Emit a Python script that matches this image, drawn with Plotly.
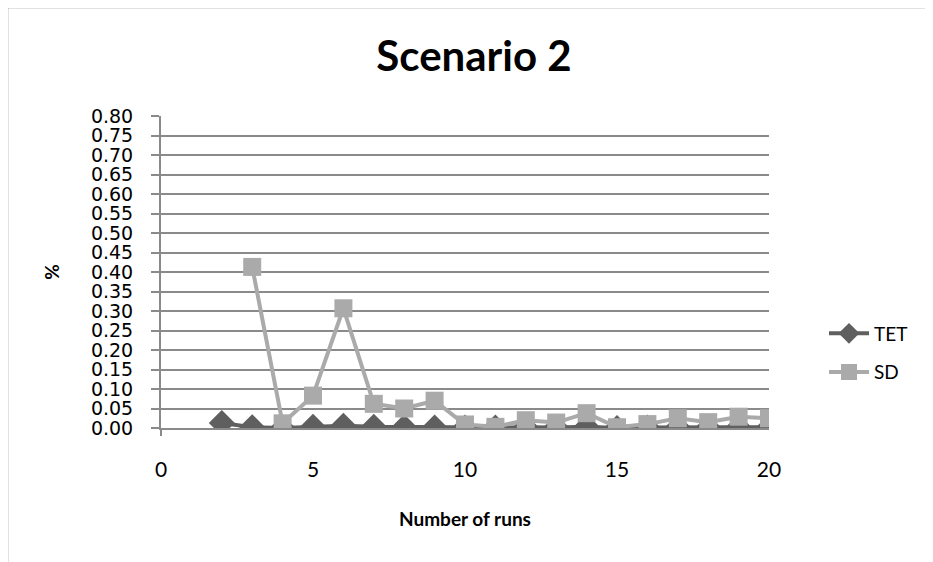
import plotly.graph_objects as go

title_text = "Scenario 2"
x_title = "Number of runs"
y_title = "%"

tet_x = [2, 3, 4, 5, 6, 7, 8, 9, 10, 11, 12, 13, 14, 15, 16, 17, 18, 19, 20]
tet_y = [0.013, 0.002, 0.0, 0.003, 0.006, 0.003, 0.002, 0.001, 0.001, 0.001,
         0.002, 0.001, 0.003, 0.0, 0.001, 0.002, 0.001, 0.002, 0.002]

sd_x = [3, 4, 5, 6, 7, 8, 9, 10, 11, 12, 13, 14, 15, 16, 17, 18, 19, 20]
sd_y = [0.413, 0.012, 0.083, 0.307, 0.062, 0.050, 0.070, 0.009, 0.003, 0.020,
        0.014, 0.038, 0.002, 0.010, 0.025, 0.015, 0.029, 0.025]

y_ticks = [round(i * 0.05, 2) for i in range(17)]
y_tick_labels = [f"{v:.2f}" for v in y_ticks]
x_ticks = [0, 5, 10, 15, 20]

GRID = "#8a8a8a"

fig = go.Figure()
fig.add_trace(go.Scatter(
    x=tet_x, y=tet_y, name="TET", mode="lines+markers", legendgroup="a",
    line=dict(color="#5f5f5f", width=4),
    marker=dict(symbol="diamond", size=20, color="#5f5f5f"),
))
fig.add_trace(go.Scatter(
    x=sd_x, y=sd_y, name="SD", mode="lines+markers", legendgroup="b",
    line=dict(color="#aaaaaa", width=4),
    marker=dict(symbol="square", size=18, color="#aaaaaa"),
))

# page body has an 8px default margin, so screen coords are offset by 8
OFF = 8
W, H = 933 - OFF, 562 - OFF
L, R, T, B = 161 - OFF, 769 - OFF, 116 - OFF, 428 - OFF

def px(xs):
    return (xs - OFF - L) / (R - L)

def py(ys):
    return (B - (ys - OFF)) / (B - T)

fig.update_layout(
    width=W, height=H,
    margin=dict(l=L, r=W - R, t=T, b=H - B, pad=0),
    paper_bgcolor="white", plot_bgcolor="white",
    title=dict(text=f"<b>{title_text}</b>", x=px(474), xref="paper", xanchor="center",
               y=1 - (56 - OFF) / H, yanchor="middle",
               font=dict(family="Lato", size=42, color="black")),
    showlegend=True,
    legend=dict(x=px(824), y=py(353), xanchor="left", yanchor="middle",
                font=dict(family="Lato", size=19, color="black"),
                tracegroupgap=11, itemwidth=40, bgcolor="rgba(0,0,0,0)"),
    font=dict(family="Lato", color="black"),
)

fig.update_xaxes(
    range=[0, 20], tickvals=x_ticks, ticktext=[str(v) for v in x_ticks],
    showgrid=False, zeroline=False, showline=True, linecolor=GRID, linewidth=2,
    ticks="", tickfont=dict(family="Lato", size=21, color="black"),
    ticklabelstandoff=22,
    title=dict(text=f"<b>{x_title}</b>", font=dict(family="Lato", size=19, color="black"),
               standoff=32),
)
fig.update_yaxes(
    range=[0, 0.8], tickvals=y_ticks, ticktext=y_tick_labels,
    showgrid=True, gridcolor=GRID, gridwidth=2,
    zeroline=False, showline=True, linecolor=GRID, linewidth=2,
    ticks="outside", ticklen=8, tickcolor=GRID, tickwidth=2,
    tickfont=dict(family="DejaVu Sans", size=19, color="black"),
    ticklabelstandoff=14,
    title=dict(text=f"<b>{y_title}</b>", font=dict(family="Lato", size=19, color="black"),
               standoff=26),
)

# small extension of the y-axis below zero (cross tick)
fig.add_shape(type="line", xref="paper", yref="paper",
              x0=0, x1=0, y0=py(428), y1=py(436),
              line=dict(color=GRID, width=2))

# chart-area border (top and left visible)
fig.add_shape(type="line", xref="paper", yref="paper",
              x0=px(7), x1=px(940), y0=py(7), y1=py(7),
              line=dict(color=GRID, width=2.5))
fig.add_shape(type="line", xref="paper", yref="paper",
              x0=px(7), x1=px(7), y0=py(7), y1=py(570),
              line=dict(color=GRID, width=2.5))

fig.write_html("out.html")
